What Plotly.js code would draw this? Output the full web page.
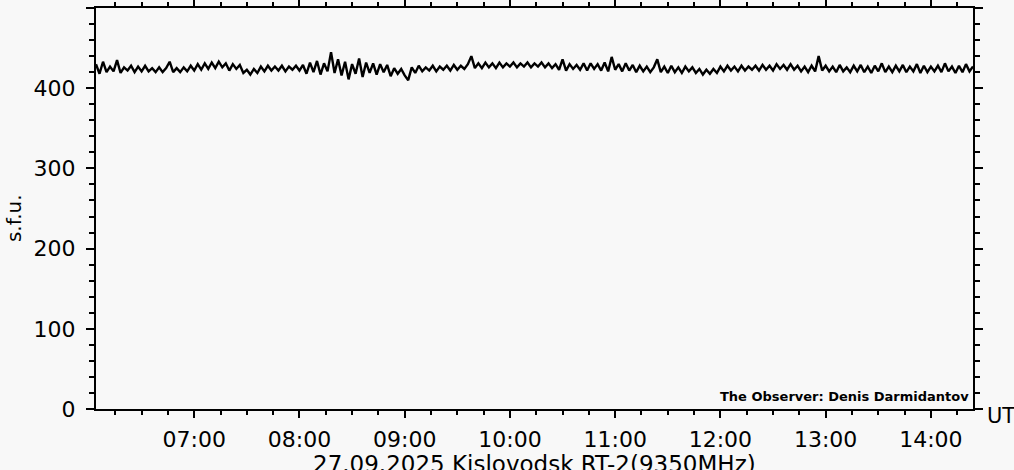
<!DOCTYPE html>
<html>
<head>
<meta charset="utf-8">
<script src="https://cdn.plot.ly/plotly-3.0.1.min.js"></script>
<style>
html,body{margin:0;padding:0;background:#f8f8f8;}
#chart{width:1014px;height:470px;}
</style>
</head>
<body>
<div id="chart"></div>
<script>
// Flux density at 9350 MHz, s.f.u., sampled every 2 minutes from 06:04 UT
const startTime = '2025-09-27 06:04';
const stepMinutes = 2;
const flux = [
  430,418,433,420,427,421,435,419,426,422,
  428,420,427,421,428,421,425,420,426,420,
  425,433,420,425,420,426,421,428,422,430,
  423,431,424,432,425,433,426,431,422,430,
  424,429,419,423,417,424,419,427,421,428,
  422,427,422,428,421,427,423,428,422,429,
  418,432,420,434,417,431,421,445,419,436,
  416,433,411,430,418,437,414,432,419,431,
  417,430,420,429,415,425,418,424,416,410,
  426,419,428,421,426,422,428,421,427,423,
  428,422,429,423,428,424,430,440,425,431,
  425,432,426,431,425,432,426,431,427,432,
  426,431,427,432,426,431,427,432,426,431,
  425,430,423,436,422,430,424,429,423,431,
  422,431,424,430,422,432,421,439,423,430,
  421,431,422,429,420,428,421,427,420,426,
  436,420,427,419,428,420,426,419,427,421,
  426,419,424,417,423,418,424,419,427,421,
  428,422,427,421,428,422,427,423,428,422,
  429,423,428,422,430,424,429,423,430,423,
  428,421,427,420,428,421,440,422,428,421,
  427,420,429,421,426,420,428,421,429,420,
  427,419,428,421,431,420,427,420,428,421,
  429,420,427,421,430,419,428,420,427,421,
  428,420,431,421,427,419,428,420,430,421,
  427
];
const xRange = ['2025-09-27 06:04', '2025-09-27 14:24'];
const yTicks = [0, 100, 200, 300, 400, 500];
const yTickText = ['0', '100', '200', '300', '400', '500'];
const yTitle = 's.f.u.';
const xTitle = '27.09.2025 Kislovodsk RT-2(9350MHz)';
const unitLabel = 'UT';
const observer = 'The Observer: Denis Darmidantov';

const t0 = new Date(startTime.replace(' ', 'T') + ':00Z').getTime();
function fmt(ms){
  const d = new Date(ms);
  const p = n => String(n).padStart(2,'0');
  return d.getUTCFullYear()+'-'+p(d.getUTCMonth()+1)+'-'+p(d.getUTCDate())+' '+p(d.getUTCHours())+':'+p(d.getUTCMinutes())+':'+p(d.getUTCSeconds());
}
const times = flux.map((_, i) => fmt(t0 + i*stepMinutes*60000));

const FONT = 'DejaVu Sans, Liberation Sans, sans-serif';

const trace = {
  x: times, y: flux, type: 'scatter', mode: 'lines',
  line: {color: '#000000', width: 2.4}, hoverinfo: 'skip'
};

const layout = {
  width: 1014, height: 470,
  margin: {l: 96, r: 41, t: 8, b: 61, pad: 0},
  paper_bgcolor: '#f8f8f8', plot_bgcolor: '#f8f8f8',
  showlegend: false,
  font: {family: FONT, color: '#000000', size: 22},
  xaxis: {
    type: 'date', range: xRange,
    tick0: '2025-09-27 07:00:00', dtick: 3600000, tickformat: '%H:%M',
    ticks: 'outside', ticklen: 7, tickwidth: 2, tickcolor: '#000',
    ticklabelstandoff: 3,
    showline: true, linewidth: 2, linecolor: '#000', mirror: 'ticks',
    showgrid: false, zeroline: false,
    tickfont: {family: FONT, size: 22, color: '#000'},
    minor: {dtick: 900000, tick0: '2025-09-27 07:00:00', ticks: 'outside', ticklen: 4, tickwidth: 2, tickcolor: '#000', showgrid: false}
  },
  yaxis: {
    range: [0, 500], tickvals: yTicks, ticktext: yTickText,
    ticks: 'outside', ticklen: 8, tickwidth: 2, tickcolor: '#000',
    ticklabelstandoff: 6,
    showline: true, linewidth: 2, linecolor: '#000', mirror: 'ticks',
    showgrid: false, zeroline: false,
    tickfont: {family: FONT, size: 22, color: '#000'},
    minor: {dtick: 20, tick0: 0, ticks: 'outside', ticklen: 5, tickwidth: 2, tickcolor: '#000', showgrid: false}
  },
  annotations: [
    {text: yTitle, xref: 'paper', yref: 'paper', x: -0.0935, y: 0.476,
     xanchor: 'center', yanchor: 'middle', textangle: -90, showarrow: false,
     font: {family: FONT, size: 20, color: '#000'}},
    {text: xTitle, xref: 'paper', yref: 'paper', x: 0.5, y: -0.137,
     xanchor: 'center', yanchor: 'middle', showarrow: false,
     font: {family: FONT, size: 23, color: '#000'}},
    {text: unitLabel, xref: 'paper', yref: 'paper', x: 1.0137, y: -0.018,
     xanchor: 'left', yanchor: 'middle', showarrow: false,
     font: {family: FONT, size: 21, color: '#000'}},
    {text: observer, xref: 'paper', yref: 'paper', x: 0.9977, y: 0.030,
     xanchor: 'right', yanchor: 'middle', showarrow: false,
     font: {family: FONT, size: 13, color: '#000', weight: 'bold'}}
  ]
};

Plotly.newPlot('chart', [trace], layout, {displayModeBar: false, staticPlot: true});
</script>
</body>
</html>
